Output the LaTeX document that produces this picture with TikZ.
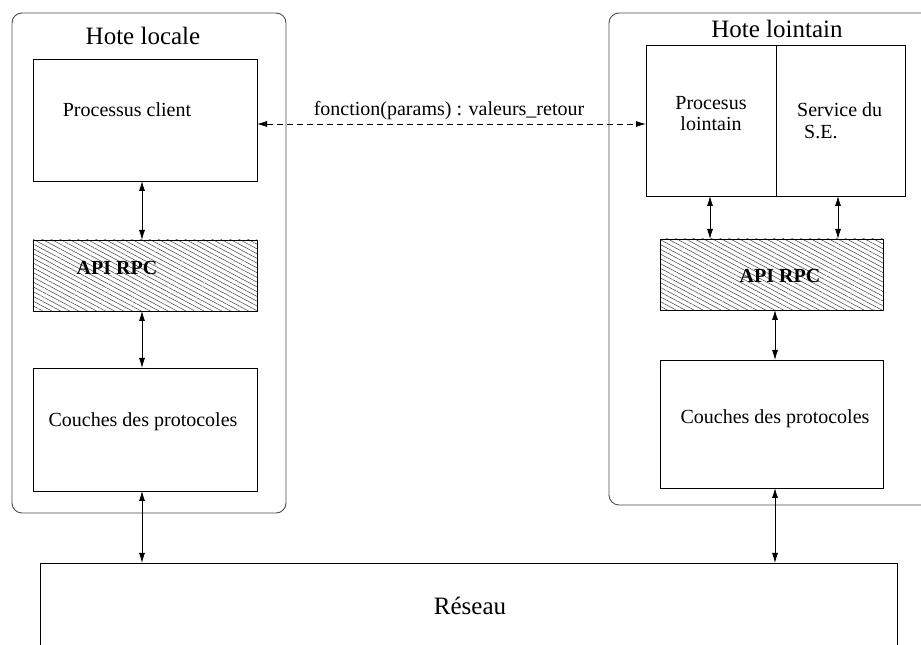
\documentclass[tikz,border=0pt]{standalone}
\usepackage{fontspec}
\setmainfont{Liberation Serif}
\usetikzlibrary{patterns.meta,arrows.meta}
\begin{document}
\begin{tikzpicture}[x=1pt,y=1pt,
  outer/.style={draw=black!70, line width=0.9pt, rounded corners=10pt, minimum width=#1, inner sep=0pt, outer sep=0pt},
  box/.style={draw=black, line width=0.8pt, inner sep=0pt, outer sep=0pt},
  hatch/.style={box, pattern={Lines[angle=-28,distance=4.2pt,line width=0.55pt]}, pattern color=black!70},
  lbl/.style={font=\fontsize{20}{22}\selectfont, anchor=base, inner sep=0pt},
  big/.style={font=\fontsize{25}{30}\selectfont, anchor=base, inner sep=0pt},
  link/.style={{Latex[length=10pt,width=6pt]}-{Latex[length=10pt,width=6pt]}, line width=0.8pt},
  dlink/.style={link, dash pattern=on 6pt off 4pt},
]
\useasboundingbox (0,0) rectangle (921,645);

% outer hosts
\node[outer=274pt, minimum height=500pt] (hostL) at (149,382) {};
\node[outer=331pt, minimum height=492pt] (hostR) at (774.5,386) {};
\node[big] (titleL) at (143,600) {Hote locale};
\node[big] (titleR) at (777,607) {Hote lointain};

% left stack
\node[box, minimum width=224pt, minimum height=122pt] (client) at (145,525) {};
\node[lbl] (clientT) at (127,528) {Processus client};
\node[hatch, minimum width=224pt, minimum height=71pt] (apiL) at (145,369.5) {};
\node[lbl, font=\fontsize{20}{22}\selectfont\bfseries] (apiLT) at (117,370) {API RPC};
\node[box, minimum width=224pt, minimum height=123pt] (couL) at (145,215.5) {};
\node[lbl] (couLT) at (143,218) {Couches des protocoles};

% right stack
\node[box, minimum width=130pt, minimum height=151pt] (splitL) at (711,524.5) {};
\node[box, minimum width=129pt, minimum height=151pt] (splitR) at (840.5,524.5) {};
\node[lbl, align=center] (procT) at (711,514) {Procesus\\[-0.5pt]lointain};
\node[lbl, anchor=base west, align=left] (servT) at (797,506) {Service du\\[0pt]\hspace{7pt}S.E.};
\node[hatch, minimum width=223pt, minimum height=71pt] (apiR) at (771.5,370.5) {};
\node[lbl, font=\fontsize{20}{22}\selectfont\bfseries] (apiRT) at (780,362) {API RPC};
\node[box, minimum width=223pt, minimum height=128pt] (couR) at (771.5,221) {};
\node[lbl] (couRT) at (775,221) {Couches des protocoles};

% network
\node[box, minimum width=857pt, minimum height=102pt] (net) at (468.5,31) {};
\node[big] (netT) at (470,30) {Réseau};

% connectors left
\draw[link] ([xshift=-3pt]client.south) -- ([xshift=-3pt]apiL.north);
\draw[link] ([xshift=-3pt]apiL.south) -- ([xshift=-3pt]couL.north);
\draw[link] ([xshift=-3pt]couL.south) -- ([xshift=-3pt]couL.south |- net.north);

% connectors right
\draw[link] ([xshift=-1pt]splitL.south) -- ([xshift=-1pt]splitL.south |- apiR.north);
\draw[link] ([xshift=-2.5pt]splitR.south) -- ([xshift=-2.5pt]splitR.south |- apiR.north);
\draw[link] ([xshift=3.5pt]apiR.south) -- ([xshift=3.5pt]couR.north);
\draw[link] ([xshift=3.5pt]couR.south) -- ([xshift=3.5pt]couR.south |- net.north);

% remote call
\draw[dlink] ([yshift=-4pt]client.east) -- ([yshift=-4pt]client.east -| splitL.west);
\node[lbl] (call) at (449,529) {fonction(params) : valeurs\_retour};
\end{tikzpicture}
\end{document}
